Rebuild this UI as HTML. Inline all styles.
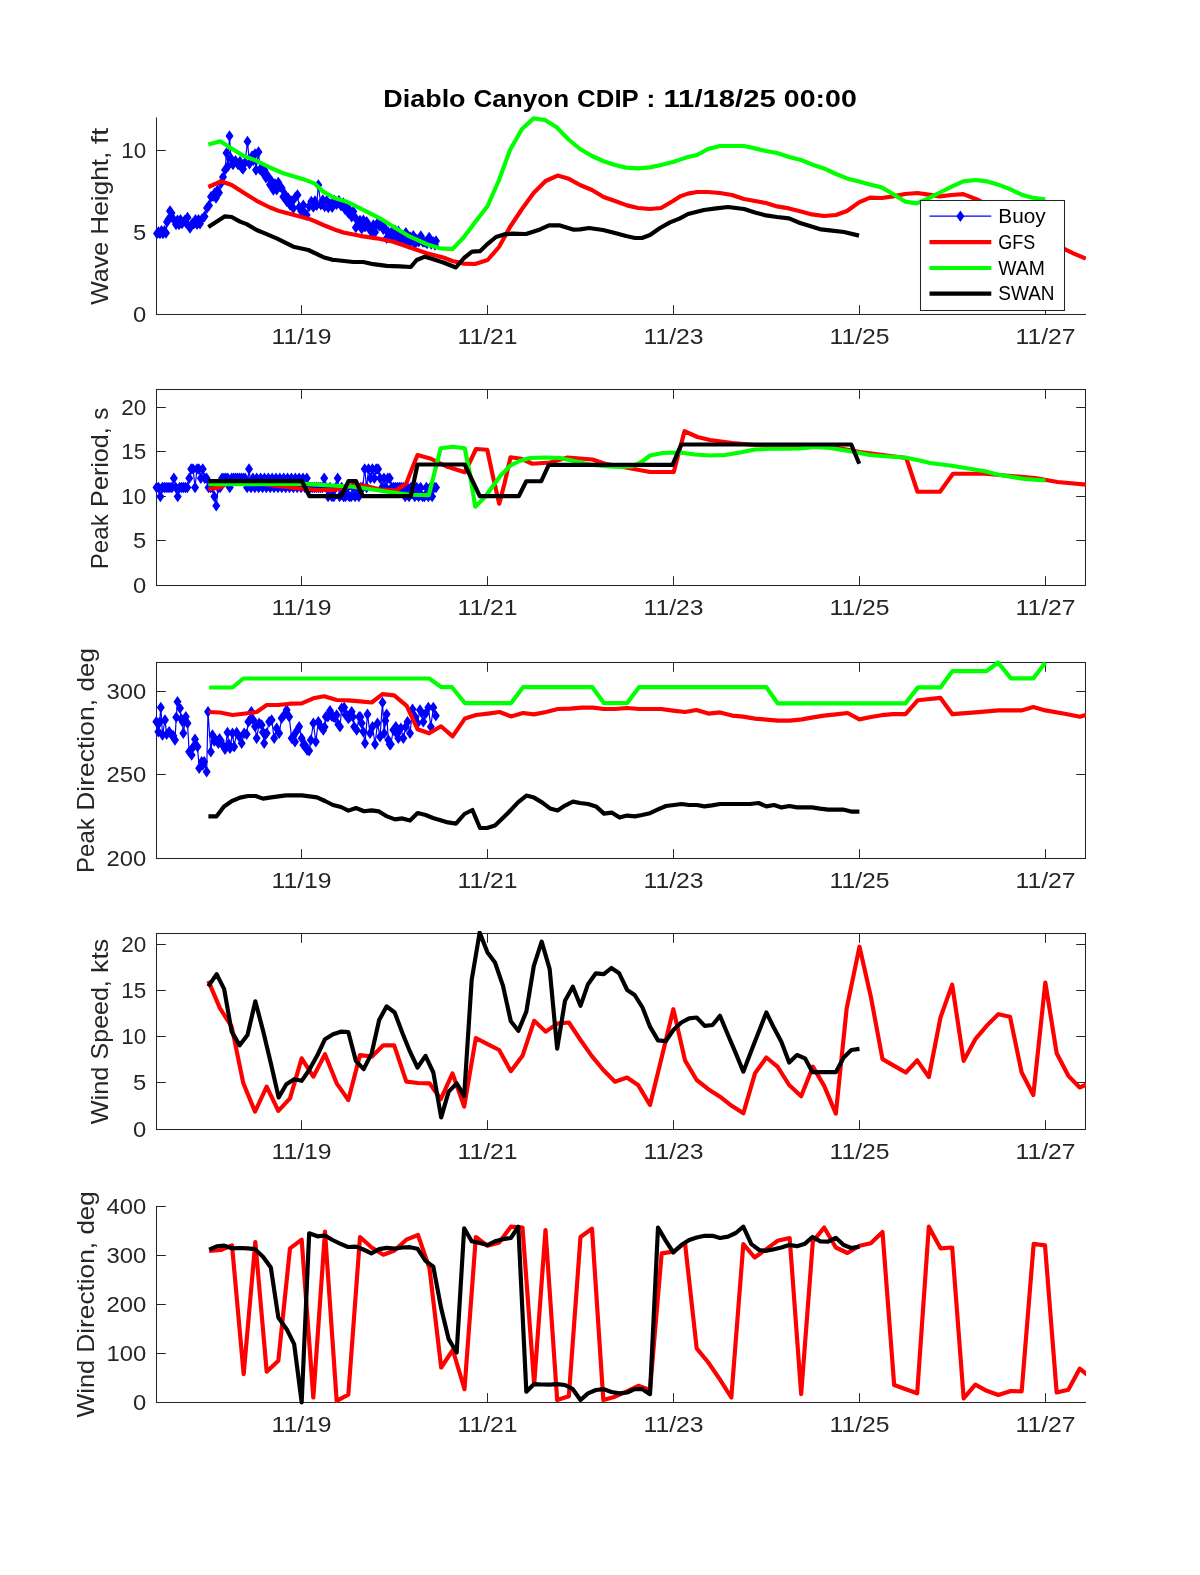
<!DOCTYPE html>
<html lang="en">
<head>
<meta charset="utf-8">
<title>Diablo Canyon CDIP : 11/18/25 00:00</title>
<style>
html,body{margin:0;padding:0;background:#ffffff;}
body{width:1200px;height:1575px;overflow:hidden;font-family:"Liberation Sans",sans-serif;}
svg{display:block;will-change:transform;}
text{font-family:"Liberation Sans",sans-serif;}
</style>
</head>
<body>
<svg width="1200" height="1575" viewBox="0 0 1200 1575" font-family="'Liberation Sans', sans-serif">
<defs>
<clipPath id="c0"><rect x="156" y="115.5" width="930" height="201.5"/></clipPath>
<clipPath id="c1"><rect x="156" y="387" width="930" height="201"/></clipPath>
<clipPath id="c2"><rect x="156" y="660" width="930" height="201"/></clipPath>
<clipPath id="c3"><rect x="156" y="931" width="930" height="201"/></clipPath>
<clipPath id="c4"><rect x="156" y="1204" width="930" height="201"/></clipPath>
</defs>
<text y="107" font-size="24.28" font-weight="bold" fill="#000000"><tspan x="383.24" textLength="82.35" lengthAdjust="spacingAndGlyphs">Diablo</tspan> <tspan x="473.56" textLength="95.6" lengthAdjust="spacingAndGlyphs">Canyon</tspan> <tspan x="577.14" textLength="61.17" lengthAdjust="spacingAndGlyphs">CDIP</tspan> <tspan x="646.29" textLength="9.17" lengthAdjust="spacingAndGlyphs">:</tspan> <tspan x="663.43" textLength="112.41" lengthAdjust="spacingAndGlyphs">11/18/25</tspan> <tspan x="783.82" textLength="72.95" lengthAdjust="spacingAndGlyphs">00:00</tspan></text>
<g id="p1">
<path d="M156.5 117.5V314.5H1086" fill="none" stroke="#262626" stroke-width="1.04"/>
<line x1="301.5" y1="314.5" x2="301.5" y2="305.2" stroke="#262626" stroke-width="1.04"/>
<text x="271.48" y="344.1" font-size="22.25" textLength="60.04" lengthAdjust="spacingAndGlyphs" fill="#262626">11/19</text>
<line x1="487.5" y1="314.5" x2="487.5" y2="305.2" stroke="#262626" stroke-width="1.04"/>
<text x="457.48" y="344.1" font-size="22.25" textLength="60.04" lengthAdjust="spacingAndGlyphs" fill="#262626">11/21</text>
<line x1="673.5" y1="314.5" x2="673.5" y2="305.2" stroke="#262626" stroke-width="1.04"/>
<text x="643.48" y="344.1" font-size="22.25" textLength="60.04" lengthAdjust="spacingAndGlyphs" fill="#262626">11/23</text>
<line x1="859.5" y1="314.5" x2="859.5" y2="305.2" stroke="#262626" stroke-width="1.04"/>
<text x="829.48" y="344.1" font-size="22.25" textLength="60.04" lengthAdjust="spacingAndGlyphs" fill="#262626">11/25</text>
<line x1="1045.5" y1="314.5" x2="1045.5" y2="305.2" stroke="#262626" stroke-width="1.04"/>
<text x="1015.48" y="344.1" font-size="22.25" textLength="60.04" lengthAdjust="spacingAndGlyphs" fill="#262626">11/27</text>
<line x1="156.5" y1="314.5" x2="165.8" y2="314.5" stroke="#262626" stroke-width="1.04"/>
<text x="132.95" y="321.9" font-size="22.25" textLength="13.25" lengthAdjust="spacingAndGlyphs" fill="#262626">0</text>
<line x1="156.5" y1="232.5" x2="165.8" y2="232.5" stroke="#262626" stroke-width="1.04"/>
<text x="132.95" y="239.9" font-size="22.25" textLength="13.25" lengthAdjust="spacingAndGlyphs" fill="#262626">5</text>
<line x1="156.5" y1="150.5" x2="165.8" y2="150.5" stroke="#262626" stroke-width="1.04"/>
<text x="121.19" y="157.9" font-size="22.25" textLength="25.01" lengthAdjust="spacingAndGlyphs" fill="#262626">10</text>
<text y="216.25" font-size="24.28" transform="rotate(-90 108 216.25)" fill="#262626"><tspan x="19.42" textLength="62.9" lengthAdjust="spacingAndGlyphs">Wave</tspan> <tspan x="89.6" textLength="83.04" lengthAdjust="spacingAndGlyphs">Height,</tspan> <tspan x="179.93" textLength="16.65" lengthAdjust="spacingAndGlyphs">ft</tspan></text>
<polyline points="157,233.5 158.5,232.06 160,233.5 161.5,230.77 163,233.5 164.5,230.68 166,233 167,222 168.5,219.21 170,211 171.5,213 173.5,219.24 176,224.61 177.5,220.29 179,224.41 180.5,219.87 182,223.6 184.5,220.64 186,222.69 187.5,217.5 190,228 192,223.76 194,223.62 195.5,219.73 197,224.22 198.5,219.73 200,223.71 202,219.12 204.5,216.57 207,207.89 209,205.48 211,196.83 213,196.16 214.5,193.17 216,197.96 217.5,190.3 219,192.75 221,183.3 223,177.02 225,170.11 226.5,153 228,166.19 229.5,136 231,158.51 233,164.59 235.5,160.87 238,164.43 240,161.39 241.5,167.48 243,169 245,162.6 247.5,141.5 249.5,163.85 252,156.34 253.5,160.3 255,153.97 256,170 258.5,152 260,169.5 261.5,167.53 263,173.01 264.5,170.15 266,177.69 268,176.25 270,184.81 271.67,181.16 273.33,189.89 275,184.09 276.67,189.65 278.33,182.41 280,186.53 281.67,187.96 283.33,196.79 285,194.57 286.67,201.33 288.33,198.21 290,204.97 291.67,201.31 293.33,208.14 295.42,197.26 297.5,195 299.17,207.3 301.25,211.14 303.33,205.16 305,213.57 306.67,215 309.17,206.28 311.25,201.47 313.33,207.11 315,201.04 316.67,205.3 318.33,185 320.83,204.77 322.78,199.99 324.72,206.61 326.67,200.81 328.33,207.51 330,204.02 332.22,207.31 334.44,200.45 336.67,204.21 338.89,200.66 341.11,205.69 343.33,202.97 345,209.31 346.67,206.53 348.33,212.92 350,210.75 351.67,216.85 353.33,211.48 355,217.3 355.83,227.5 358.33,224.6 360,220.58 361.67,228.67 363.33,220.36 365,226.72 366.67,221.67 368.33,227.77 370,227.13 371.67,232.5 373.33,224.96 375,232.13 377.08,223.86 379.17,225.8 381.25,223.81 383.33,229.23 385,228.48 386.67,238.17 388.33,232.2 390,236.7 391.67,232.12 393.33,237.27 395,230.19 396.67,237.12 398.33,231.16 400,239.6 401.67,235.12 403.75,238.91 405.83,232.74 408.33,243.7 410,236.91 411.67,240.32 413.33,235.67 415,243.8 416.67,239.66 418.75,241.79 420.83,235.92 422.92,242.12 425,241.89 427.08,243.46 429.17,237.56 431.25,243.96 433.33,241.91 435,245 436,240.91" fill="none" stroke="#0000ff" stroke-width="1.2" stroke-linejoin="round" stroke-linecap="butt"/>
<path d="M157 227.75l4 5.75l-4 5.75l-4 -5.75zM158.5 226.31l4 5.75l-4 5.75l-4 -5.75zM160 227.75l4 5.75l-4 5.75l-4 -5.75zM161.5 225.02l4 5.75l-4 5.75l-4 -5.75zM163 227.75l4 5.75l-4 5.75l-4 -5.75zM164.5 224.93l4 5.75l-4 5.75l-4 -5.75zM166 227.25l4 5.75l-4 5.75l-4 -5.75zM167 216.25l4 5.75l-4 5.75l-4 -5.75zM168.5 213.46l4 5.75l-4 5.75l-4 -5.75zM170 205.25l4 5.75l-4 5.75l-4 -5.75zM171.5 207.25l4 5.75l-4 5.75l-4 -5.75zM173.5 213.49l4 5.75l-4 5.75l-4 -5.75zM176 218.86l4 5.75l-4 5.75l-4 -5.75zM177.5 214.54l4 5.75l-4 5.75l-4 -5.75zM179 218.66l4 5.75l-4 5.75l-4 -5.75zM180.5 214.12l4 5.75l-4 5.75l-4 -5.75zM182 217.85l4 5.75l-4 5.75l-4 -5.75zM184.5 214.89l4 5.75l-4 5.75l-4 -5.75zM186 216.94l4 5.75l-4 5.75l-4 -5.75zM187.5 211.75l4 5.75l-4 5.75l-4 -5.75zM190 222.25l4 5.75l-4 5.75l-4 -5.75zM192 218.01l4 5.75l-4 5.75l-4 -5.75zM194 217.87l4 5.75l-4 5.75l-4 -5.75zM195.5 213.98l4 5.75l-4 5.75l-4 -5.75zM197 218.47l4 5.75l-4 5.75l-4 -5.75zM198.5 213.98l4 5.75l-4 5.75l-4 -5.75zM200 217.96l4 5.75l-4 5.75l-4 -5.75zM202 213.37l4 5.75l-4 5.75l-4 -5.75zM204.5 210.82l4 5.75l-4 5.75l-4 -5.75zM207 202.14l4 5.75l-4 5.75l-4 -5.75zM209 199.73l4 5.75l-4 5.75l-4 -5.75zM211 191.08l4 5.75l-4 5.75l-4 -5.75zM213 190.41l4 5.75l-4 5.75l-4 -5.75zM214.5 187.42l4 5.75l-4 5.75l-4 -5.75zM216 192.21l4 5.75l-4 5.75l-4 -5.75zM217.5 184.55l4 5.75l-4 5.75l-4 -5.75zM219 187l4 5.75l-4 5.75l-4 -5.75zM221 177.55l4 5.75l-4 5.75l-4 -5.75zM223 171.27l4 5.75l-4 5.75l-4 -5.75zM225 164.36l4 5.75l-4 5.75l-4 -5.75zM226.5 147.25l4 5.75l-4 5.75l-4 -5.75zM228 160.44l4 5.75l-4 5.75l-4 -5.75zM229.5 130.25l4 5.75l-4 5.75l-4 -5.75zM231 152.76l4 5.75l-4 5.75l-4 -5.75zM233 158.84l4 5.75l-4 5.75l-4 -5.75zM235.5 155.12l4 5.75l-4 5.75l-4 -5.75zM238 158.68l4 5.75l-4 5.75l-4 -5.75zM240 155.64l4 5.75l-4 5.75l-4 -5.75zM241.5 161.73l4 5.75l-4 5.75l-4 -5.75zM243 163.25l4 5.75l-4 5.75l-4 -5.75zM245 156.85l4 5.75l-4 5.75l-4 -5.75zM247.5 135.75l4 5.75l-4 5.75l-4 -5.75zM249.5 158.1l4 5.75l-4 5.75l-4 -5.75zM252 150.59l4 5.75l-4 5.75l-4 -5.75zM253.5 154.55l4 5.75l-4 5.75l-4 -5.75zM255 148.22l4 5.75l-4 5.75l-4 -5.75zM256 164.25l4 5.75l-4 5.75l-4 -5.75zM258.5 146.25l4 5.75l-4 5.75l-4 -5.75zM260 163.75l4 5.75l-4 5.75l-4 -5.75zM261.5 161.78l4 5.75l-4 5.75l-4 -5.75zM263 167.26l4 5.75l-4 5.75l-4 -5.75zM264.5 164.4l4 5.75l-4 5.75l-4 -5.75zM266 171.94l4 5.75l-4 5.75l-4 -5.75zM268 170.5l4 5.75l-4 5.75l-4 -5.75zM270 179.06l4 5.75l-4 5.75l-4 -5.75zM271.67 175.41l4 5.75l-4 5.75l-4 -5.75zM273.33 184.14l4 5.75l-4 5.75l-4 -5.75zM275 178.34l4 5.75l-4 5.75l-4 -5.75zM276.67 183.9l4 5.75l-4 5.75l-4 -5.75zM278.33 176.66l4 5.75l-4 5.75l-4 -5.75zM280 180.78l4 5.75l-4 5.75l-4 -5.75zM281.67 182.21l4 5.75l-4 5.75l-4 -5.75zM283.33 191.04l4 5.75l-4 5.75l-4 -5.75zM285 188.82l4 5.75l-4 5.75l-4 -5.75zM286.67 195.58l4 5.75l-4 5.75l-4 -5.75zM288.33 192.46l4 5.75l-4 5.75l-4 -5.75zM290 199.22l4 5.75l-4 5.75l-4 -5.75zM291.67 195.56l4 5.75l-4 5.75l-4 -5.75zM293.33 202.39l4 5.75l-4 5.75l-4 -5.75zM295.42 191.51l4 5.75l-4 5.75l-4 -5.75zM297.5 189.25l4 5.75l-4 5.75l-4 -5.75zM299.17 201.55l4 5.75l-4 5.75l-4 -5.75zM301.25 205.39l4 5.75l-4 5.75l-4 -5.75zM303.33 199.41l4 5.75l-4 5.75l-4 -5.75zM305 207.82l4 5.75l-4 5.75l-4 -5.75zM306.67 209.25l4 5.75l-4 5.75l-4 -5.75zM309.17 200.53l4 5.75l-4 5.75l-4 -5.75zM311.25 195.72l4 5.75l-4 5.75l-4 -5.75zM313.33 201.36l4 5.75l-4 5.75l-4 -5.75zM315 195.29l4 5.75l-4 5.75l-4 -5.75zM316.67 199.55l4 5.75l-4 5.75l-4 -5.75zM318.33 179.25l4 5.75l-4 5.75l-4 -5.75zM320.83 199.02l4 5.75l-4 5.75l-4 -5.75zM322.78 194.24l4 5.75l-4 5.75l-4 -5.75zM324.72 200.86l4 5.75l-4 5.75l-4 -5.75zM326.67 195.06l4 5.75l-4 5.75l-4 -5.75zM328.33 201.76l4 5.75l-4 5.75l-4 -5.75zM330 198.27l4 5.75l-4 5.75l-4 -5.75zM332.22 201.56l4 5.75l-4 5.75l-4 -5.75zM334.44 194.7l4 5.75l-4 5.75l-4 -5.75zM336.67 198.46l4 5.75l-4 5.75l-4 -5.75zM338.89 194.91l4 5.75l-4 5.75l-4 -5.75zM341.11 199.94l4 5.75l-4 5.75l-4 -5.75zM343.33 197.22l4 5.75l-4 5.75l-4 -5.75zM345 203.56l4 5.75l-4 5.75l-4 -5.75zM346.67 200.78l4 5.75l-4 5.75l-4 -5.75zM348.33 207.17l4 5.75l-4 5.75l-4 -5.75zM350 205l4 5.75l-4 5.75l-4 -5.75zM351.67 211.1l4 5.75l-4 5.75l-4 -5.75zM353.33 205.73l4 5.75l-4 5.75l-4 -5.75zM355 211.55l4 5.75l-4 5.75l-4 -5.75zM355.83 221.75l4 5.75l-4 5.75l-4 -5.75zM358.33 218.85l4 5.75l-4 5.75l-4 -5.75zM360 214.83l4 5.75l-4 5.75l-4 -5.75zM361.67 222.92l4 5.75l-4 5.75l-4 -5.75zM363.33 214.61l4 5.75l-4 5.75l-4 -5.75zM365 220.97l4 5.75l-4 5.75l-4 -5.75zM366.67 215.92l4 5.75l-4 5.75l-4 -5.75zM368.33 222.02l4 5.75l-4 5.75l-4 -5.75zM370 221.38l4 5.75l-4 5.75l-4 -5.75zM371.67 226.75l4 5.75l-4 5.75l-4 -5.75zM373.33 219.21l4 5.75l-4 5.75l-4 -5.75zM375 226.38l4 5.75l-4 5.75l-4 -5.75zM377.08 218.11l4 5.75l-4 5.75l-4 -5.75zM379.17 220.05l4 5.75l-4 5.75l-4 -5.75zM381.25 218.06l4 5.75l-4 5.75l-4 -5.75zM383.33 223.48l4 5.75l-4 5.75l-4 -5.75zM385 222.73l4 5.75l-4 5.75l-4 -5.75zM386.67 232.42l4 5.75l-4 5.75l-4 -5.75zM388.33 226.45l4 5.75l-4 5.75l-4 -5.75zM390 230.95l4 5.75l-4 5.75l-4 -5.75zM391.67 226.37l4 5.75l-4 5.75l-4 -5.75zM393.33 231.52l4 5.75l-4 5.75l-4 -5.75zM395 224.44l4 5.75l-4 5.75l-4 -5.75zM396.67 231.37l4 5.75l-4 5.75l-4 -5.75zM398.33 225.41l4 5.75l-4 5.75l-4 -5.75zM400 233.85l4 5.75l-4 5.75l-4 -5.75zM401.67 229.37l4 5.75l-4 5.75l-4 -5.75zM403.75 233.16l4 5.75l-4 5.75l-4 -5.75zM405.83 226.99l4 5.75l-4 5.75l-4 -5.75zM408.33 237.95l4 5.75l-4 5.75l-4 -5.75zM410 231.16l4 5.75l-4 5.75l-4 -5.75zM411.67 234.57l4 5.75l-4 5.75l-4 -5.75zM413.33 229.92l4 5.75l-4 5.75l-4 -5.75zM415 238.05l4 5.75l-4 5.75l-4 -5.75zM416.67 233.91l4 5.75l-4 5.75l-4 -5.75zM418.75 236.04l4 5.75l-4 5.75l-4 -5.75zM420.83 230.17l4 5.75l-4 5.75l-4 -5.75zM422.92 236.37l4 5.75l-4 5.75l-4 -5.75zM425 236.14l4 5.75l-4 5.75l-4 -5.75zM427.08 237.71l4 5.75l-4 5.75l-4 -5.75zM429.17 231.81l4 5.75l-4 5.75l-4 -5.75zM431.25 238.21l4 5.75l-4 5.75l-4 -5.75zM433.33 236.16l4 5.75l-4 5.75l-4 -5.75zM435 239.25l4 5.75l-4 5.75l-4 -5.75zM436 235.16l4 5.75l-4 5.75l-4 -5.75z" fill="#0000ff"/>
<polyline points="208.33,187 220.83,181.33 231.67,185 243.33,192.5 256.67,200.83 270,207.5 280,211.33 293.33,214.67 310,219.17 323.33,225 336.67,230.33 343.33,232.5 360,235.83 376.67,238.33 393.33,241.67 410,247.5 426.67,253.33 443.33,257.5 452.4,261 464,263.6 475,264 487.6,260 499,247 510,227 522,209 533.6,193 545.6,181 557.6,175.6 568,178.4 580,185 592,190 603.6,197 615,201 627,205.4 638,208 650,209 661,208 673,201 680,196.4 688,193.6 697,192 708,192 720,193 732,195 744,199 755,201 766,203 777,206.4 789,208.4 801,211.6 812,214.4 824,216 836,215 847,211 859,202.4 870,197.6 882,198 893,196.4 905,194 917.5,193 928.33,194.67 940,196.33 951.67,195 963.33,194.17 978.33,200 1064.67,249.17 1073.33,253.33 1085.83,258.67" fill="none" stroke="#ff0000" stroke-width="4.17" stroke-linejoin="round" stroke-linecap="butt" clip-path="url(#c0)"/>
<polyline points="208.33,144.5 220.33,141.33 230,147.5 243.33,155.83 256.67,160.83 270,167.5 283.33,173.33 291.67,175.83 303.33,179.17 315,183.67 323.33,191.67 333.33,197.5 346.67,201.67 366.67,211.67 380,218.33 393.33,226.67 410,236.67 426.67,244.17 440,248.33 452.5,249.17 464,237 476,221 487.6,206 499,180 510,150 522,129 533.6,118.4 545,120 557,127.6 568,139 580,149 592,156 603,161 615,165 626,167.6 638,168.4 650,167.4 661,165 673,162 680,159.6 688,157 697,155 708,149 720,146 732,146 744,146 755,148.4 766,151 777,153 789,157 801,160 812,164.4 824,168.4 836,174 847,178.4 859,181.6 870,184.4 882,187.6 893,194 905,201.6 916.67,203.33 928.33,198.33 940,192.5 951.67,186.67 963.33,181.33 975.83,180 986.67,181.33 998.33,184.67 1010,189.17 1021.67,194.67 1031.67,197.5 1045.33,199.67" fill="none" stroke="#00ff00" stroke-width="4.17" stroke-linejoin="round" stroke-linecap="butt" clip-path="url(#c0)"/>
<polyline points="208.33,227 225,216.33 231.67,217 240,221.67 246.67,224.17 256.67,230 266.67,234.17 276.67,238.33 293.33,246.67 308.33,250 323.33,257.17 333.33,260 335,260 353.33,262 363.33,262 373.33,264.17 386.67,265.83 400,266.33 410.83,267 416.67,260 425,256.67 433.33,259.17 443.33,262.5 455.83,267.5 464,258 472,251.6 480,251.2 488,243.6 496,237 504,234.4 512,233.6 526,234 540,229.4 549,225.4 560,225.4 573,229.6 580,229.4 589,228 603,230 615,233 626,236 635,238 642,238 650,235 660,228 670,222.4 680,218.4 688,214 704,210 716,208.4 728,207 744,209 755,212.4 766,215.4 777,217 789,218.4 800,223 810,226 821,229.4 832,230.6 844,232 859,235.6" fill="none" stroke="#000000" stroke-width="4.17" stroke-linejoin="round" stroke-linecap="butt" clip-path="url(#c0)"/>
</g>
<g id="p2">
<rect x="156.5" y="389.5" width="929" height="196" fill="none" stroke="#262626" stroke-width="1.04"/>
<line x1="301.5" y1="585.5" x2="301.5" y2="576.2" stroke="#262626" stroke-width="1.04"/>
<line x1="301.5" y1="389.5" x2="301.5" y2="398.8" stroke="#262626" stroke-width="1.04"/>
<text x="271.48" y="615.1" font-size="22.25" textLength="60.04" lengthAdjust="spacingAndGlyphs" fill="#262626">11/19</text>
<line x1="487.5" y1="585.5" x2="487.5" y2="576.2" stroke="#262626" stroke-width="1.04"/>
<line x1="487.5" y1="389.5" x2="487.5" y2="398.8" stroke="#262626" stroke-width="1.04"/>
<text x="457.48" y="615.1" font-size="22.25" textLength="60.04" lengthAdjust="spacingAndGlyphs" fill="#262626">11/21</text>
<line x1="673.5" y1="585.5" x2="673.5" y2="576.2" stroke="#262626" stroke-width="1.04"/>
<line x1="673.5" y1="389.5" x2="673.5" y2="398.8" stroke="#262626" stroke-width="1.04"/>
<text x="643.48" y="615.1" font-size="22.25" textLength="60.04" lengthAdjust="spacingAndGlyphs" fill="#262626">11/23</text>
<line x1="859.5" y1="585.5" x2="859.5" y2="576.2" stroke="#262626" stroke-width="1.04"/>
<line x1="859.5" y1="389.5" x2="859.5" y2="398.8" stroke="#262626" stroke-width="1.04"/>
<text x="829.48" y="615.1" font-size="22.25" textLength="60.04" lengthAdjust="spacingAndGlyphs" fill="#262626">11/25</text>
<line x1="1045.5" y1="585.5" x2="1045.5" y2="576.2" stroke="#262626" stroke-width="1.04"/>
<line x1="1045.5" y1="389.5" x2="1045.5" y2="398.8" stroke="#262626" stroke-width="1.04"/>
<text x="1015.48" y="615.1" font-size="22.25" textLength="60.04" lengthAdjust="spacingAndGlyphs" fill="#262626">11/27</text>
<line x1="156.5" y1="585.5" x2="165.8" y2="585.5" stroke="#262626" stroke-width="1.04"/>
<line x1="1085.5" y1="585.5" x2="1076.2" y2="585.5" stroke="#262626" stroke-width="1.04"/>
<text x="132.95" y="592.9" font-size="22.25" textLength="13.25" lengthAdjust="spacingAndGlyphs" fill="#262626">0</text>
<line x1="156.5" y1="540.5" x2="165.8" y2="540.5" stroke="#262626" stroke-width="1.04"/>
<line x1="1085.5" y1="540.5" x2="1076.2" y2="540.5" stroke="#262626" stroke-width="1.04"/>
<text x="132.95" y="547.9" font-size="22.25" textLength="13.25" lengthAdjust="spacingAndGlyphs" fill="#262626">5</text>
<line x1="156.5" y1="496.5" x2="165.8" y2="496.5" stroke="#262626" stroke-width="1.04"/>
<line x1="1085.5" y1="496.5" x2="1076.2" y2="496.5" stroke="#262626" stroke-width="1.04"/>
<text x="121.19" y="503.9" font-size="22.25" textLength="25.01" lengthAdjust="spacingAndGlyphs" fill="#262626">10</text>
<line x1="156.5" y1="451.5" x2="165.8" y2="451.5" stroke="#262626" stroke-width="1.04"/>
<line x1="1085.5" y1="451.5" x2="1076.2" y2="451.5" stroke="#262626" stroke-width="1.04"/>
<text x="121.19" y="458.9" font-size="22.25" textLength="25.01" lengthAdjust="spacingAndGlyphs" fill="#262626">15</text>
<line x1="156.5" y1="407.5" x2="165.8" y2="407.5" stroke="#262626" stroke-width="1.04"/>
<line x1="1085.5" y1="407.5" x2="1076.2" y2="407.5" stroke="#262626" stroke-width="1.04"/>
<text x="121.19" y="414.9" font-size="22.25" textLength="25.01" lengthAdjust="spacingAndGlyphs" fill="#262626">20</text>
<text y="488.5" font-size="24.28" transform="rotate(-90 108 488.5)" fill="#262626"><tspan x="27.16" textLength="55.1" lengthAdjust="spacingAndGlyphs">Peak</tspan> <tspan x="89.64" textLength="79.73" lengthAdjust="spacingAndGlyphs">Period,</tspan> <tspan x="176.75" textLength="12.09" lengthAdjust="spacingAndGlyphs">s</tspan></text>
<polyline points="156.5,487.5 158.43,487.5 160.36,496.5 162.28,487.5 164.21,487.5 166.14,487.5 168.07,487.5 169.99,487.5 171.92,487.5 173.85,478.2 175.78,487.5 177.7,496.5 179.63,487.5 181.56,487.5 183.49,487.5 185.41,487.5 187.34,487.5 189.27,478.2 191.2,469 193.12,469 195.05,487.5 196.98,469 198.91,469 200.83,478.2 202.76,469 204.69,478.2 206.62,478.2 208.54,487.5 210.47,487.5 212.4,487.5 214.33,496.5 216.26,505.8 218.18,487.5 220.11,487.5 222.04,478.2 223.97,478.2 225.89,478.2 227.82,478.2 229.75,487.5 231.68,478.2 233.6,478.2 235.53,478.2 237.46,478.2 239.39,478.2 241.31,478.2 243.24,478.2 245.17,478.2 247.1,487.5 249.02,469 250.95,487.5 252.88,478.2 254.81,487.5 256.73,478.2 258.66,487.5 260.59,478.2 262.52,487.5 264.44,478.2 266.37,487.5 268.3,478.2 270.23,487.5 272.16,478.2 274.08,487.5 276.01,478.2 277.94,487.5 279.87,478.2 281.79,487.5 283.72,478.2 285.65,487.5 287.58,478.2 289.5,487.5 291.43,478.2 293.36,487.5 295.29,478.2 297.21,487.5 299.14,478.2 301.07,487.5 303,478.2 304.92,487.5 306.85,478.2 308.78,487.5 310.71,487.5 312.63,487.5 314.56,487.5 316.49,487.5 318.42,487.5 320.34,487.5 322.27,487.5 324.2,478.2 326.13,487.5 328.06,496.5 329.98,487.5 331.91,496.5 333.84,496.5 335.77,487.5 337.69,478.2 339.62,496.5 341.55,487.5 343.48,496.5 345.4,496.5 347.33,487.5 349.26,496.5 351.19,496.5 353.11,487.5 355.04,496.5 356.97,487.5 358.9,496.5 360.82,487.5 362.75,487.5 364.68,469 366.61,487.5 368.53,469 370.46,478.2 372.39,469 374.32,478.2 376.24,469 378.17,469 380.1,478.2 382.03,487.5 383.96,478.2 385.88,487.5 387.81,478.2 389.74,478.2 391.67,487.5 393.59,487.5 395.52,487.5 397.45,487.5 399.38,487.5 401.3,487.5 403.23,487.5 405.16,496.5 407.09,487.5 409.01,496.5 410.94,487.5 412.87,487.5 414.8,496.5 416.72,487.5 418.65,496.5 420.58,487.5 422.51,496.5 424.43,496.5 426.36,487.5 428.29,496.5 430.22,487.5 432.14,496.5 434.07,487.5 436,487.5" fill="none" stroke="#0000ff" stroke-width="1.2" stroke-linejoin="round" stroke-linecap="butt"/>
<path d="M156.5 481.75l4 5.75l-4 5.75l-4 -5.75zM158.43 481.75l4 5.75l-4 5.75l-4 -5.75zM160.36 490.75l4 5.75l-4 5.75l-4 -5.75zM162.28 481.75l4 5.75l-4 5.75l-4 -5.75zM164.21 481.75l4 5.75l-4 5.75l-4 -5.75zM166.14 481.75l4 5.75l-4 5.75l-4 -5.75zM168.07 481.75l4 5.75l-4 5.75l-4 -5.75zM169.99 481.75l4 5.75l-4 5.75l-4 -5.75zM171.92 481.75l4 5.75l-4 5.75l-4 -5.75zM173.85 472.45l4 5.75l-4 5.75l-4 -5.75zM175.78 481.75l4 5.75l-4 5.75l-4 -5.75zM177.7 490.75l4 5.75l-4 5.75l-4 -5.75zM179.63 481.75l4 5.75l-4 5.75l-4 -5.75zM181.56 481.75l4 5.75l-4 5.75l-4 -5.75zM183.49 481.75l4 5.75l-4 5.75l-4 -5.75zM185.41 481.75l4 5.75l-4 5.75l-4 -5.75zM187.34 481.75l4 5.75l-4 5.75l-4 -5.75zM189.27 472.45l4 5.75l-4 5.75l-4 -5.75zM191.2 463.25l4 5.75l-4 5.75l-4 -5.75zM193.12 463.25l4 5.75l-4 5.75l-4 -5.75zM195.05 481.75l4 5.75l-4 5.75l-4 -5.75zM196.98 463.25l4 5.75l-4 5.75l-4 -5.75zM198.91 463.25l4 5.75l-4 5.75l-4 -5.75zM200.83 472.45l4 5.75l-4 5.75l-4 -5.75zM202.76 463.25l4 5.75l-4 5.75l-4 -5.75zM204.69 472.45l4 5.75l-4 5.75l-4 -5.75zM206.62 472.45l4 5.75l-4 5.75l-4 -5.75zM208.54 481.75l4 5.75l-4 5.75l-4 -5.75zM210.47 481.75l4 5.75l-4 5.75l-4 -5.75zM212.4 481.75l4 5.75l-4 5.75l-4 -5.75zM214.33 490.75l4 5.75l-4 5.75l-4 -5.75zM216.26 500.05l4 5.75l-4 5.75l-4 -5.75zM218.18 481.75l4 5.75l-4 5.75l-4 -5.75zM220.11 481.75l4 5.75l-4 5.75l-4 -5.75zM222.04 472.45l4 5.75l-4 5.75l-4 -5.75zM223.97 472.45l4 5.75l-4 5.75l-4 -5.75zM225.89 472.45l4 5.75l-4 5.75l-4 -5.75zM227.82 472.45l4 5.75l-4 5.75l-4 -5.75zM229.75 481.75l4 5.75l-4 5.75l-4 -5.75zM231.68 472.45l4 5.75l-4 5.75l-4 -5.75zM233.6 472.45l4 5.75l-4 5.75l-4 -5.75zM235.53 472.45l4 5.75l-4 5.75l-4 -5.75zM237.46 472.45l4 5.75l-4 5.75l-4 -5.75zM239.39 472.45l4 5.75l-4 5.75l-4 -5.75zM241.31 472.45l4 5.75l-4 5.75l-4 -5.75zM243.24 472.45l4 5.75l-4 5.75l-4 -5.75zM245.17 472.45l4 5.75l-4 5.75l-4 -5.75zM247.1 481.75l4 5.75l-4 5.75l-4 -5.75zM249.02 463.25l4 5.75l-4 5.75l-4 -5.75zM250.95 481.75l4 5.75l-4 5.75l-4 -5.75zM252.88 472.45l4 5.75l-4 5.75l-4 -5.75zM254.81 481.75l4 5.75l-4 5.75l-4 -5.75zM256.73 472.45l4 5.75l-4 5.75l-4 -5.75zM258.66 481.75l4 5.75l-4 5.75l-4 -5.75zM260.59 472.45l4 5.75l-4 5.75l-4 -5.75zM262.52 481.75l4 5.75l-4 5.75l-4 -5.75zM264.44 472.45l4 5.75l-4 5.75l-4 -5.75zM266.37 481.75l4 5.75l-4 5.75l-4 -5.75zM268.3 472.45l4 5.75l-4 5.75l-4 -5.75zM270.23 481.75l4 5.75l-4 5.75l-4 -5.75zM272.16 472.45l4 5.75l-4 5.75l-4 -5.75zM274.08 481.75l4 5.75l-4 5.75l-4 -5.75zM276.01 472.45l4 5.75l-4 5.75l-4 -5.75zM277.94 481.75l4 5.75l-4 5.75l-4 -5.75zM279.87 472.45l4 5.75l-4 5.75l-4 -5.75zM281.79 481.75l4 5.75l-4 5.75l-4 -5.75zM283.72 472.45l4 5.75l-4 5.75l-4 -5.75zM285.65 481.75l4 5.75l-4 5.75l-4 -5.75zM287.58 472.45l4 5.75l-4 5.75l-4 -5.75zM289.5 481.75l4 5.75l-4 5.75l-4 -5.75zM291.43 472.45l4 5.75l-4 5.75l-4 -5.75zM293.36 481.75l4 5.75l-4 5.75l-4 -5.75zM295.29 472.45l4 5.75l-4 5.75l-4 -5.75zM297.21 481.75l4 5.75l-4 5.75l-4 -5.75zM299.14 472.45l4 5.75l-4 5.75l-4 -5.75zM301.07 481.75l4 5.75l-4 5.75l-4 -5.75zM303 472.45l4 5.75l-4 5.75l-4 -5.75zM304.92 481.75l4 5.75l-4 5.75l-4 -5.75zM306.85 472.45l4 5.75l-4 5.75l-4 -5.75zM308.78 481.75l4 5.75l-4 5.75l-4 -5.75zM310.71 481.75l4 5.75l-4 5.75l-4 -5.75zM312.63 481.75l4 5.75l-4 5.75l-4 -5.75zM314.56 481.75l4 5.75l-4 5.75l-4 -5.75zM316.49 481.75l4 5.75l-4 5.75l-4 -5.75zM318.42 481.75l4 5.75l-4 5.75l-4 -5.75zM320.34 481.75l4 5.75l-4 5.75l-4 -5.75zM322.27 481.75l4 5.75l-4 5.75l-4 -5.75zM324.2 472.45l4 5.75l-4 5.75l-4 -5.75zM326.13 481.75l4 5.75l-4 5.75l-4 -5.75zM328.06 490.75l4 5.75l-4 5.75l-4 -5.75zM329.98 481.75l4 5.75l-4 5.75l-4 -5.75zM331.91 490.75l4 5.75l-4 5.75l-4 -5.75zM333.84 490.75l4 5.75l-4 5.75l-4 -5.75zM335.77 481.75l4 5.75l-4 5.75l-4 -5.75zM337.69 472.45l4 5.75l-4 5.75l-4 -5.75zM339.62 490.75l4 5.75l-4 5.75l-4 -5.75zM341.55 481.75l4 5.75l-4 5.75l-4 -5.75zM343.48 490.75l4 5.75l-4 5.75l-4 -5.75zM345.4 490.75l4 5.75l-4 5.75l-4 -5.75zM347.33 481.75l4 5.75l-4 5.75l-4 -5.75zM349.26 490.75l4 5.75l-4 5.75l-4 -5.75zM351.19 490.75l4 5.75l-4 5.75l-4 -5.75zM353.11 481.75l4 5.75l-4 5.75l-4 -5.75zM355.04 490.75l4 5.75l-4 5.75l-4 -5.75zM356.97 481.75l4 5.75l-4 5.75l-4 -5.75zM358.9 490.75l4 5.75l-4 5.75l-4 -5.75zM360.82 481.75l4 5.75l-4 5.75l-4 -5.75zM362.75 481.75l4 5.75l-4 5.75l-4 -5.75zM364.68 463.25l4 5.75l-4 5.75l-4 -5.75zM366.61 481.75l4 5.75l-4 5.75l-4 -5.75zM368.53 463.25l4 5.75l-4 5.75l-4 -5.75zM370.46 472.45l4 5.75l-4 5.75l-4 -5.75zM372.39 463.25l4 5.75l-4 5.75l-4 -5.75zM374.32 472.45l4 5.75l-4 5.75l-4 -5.75zM376.24 463.25l4 5.75l-4 5.75l-4 -5.75zM378.17 463.25l4 5.75l-4 5.75l-4 -5.75zM380.1 472.45l4 5.75l-4 5.75l-4 -5.75zM382.03 481.75l4 5.75l-4 5.75l-4 -5.75zM383.96 472.45l4 5.75l-4 5.75l-4 -5.75zM385.88 481.75l4 5.75l-4 5.75l-4 -5.75zM387.81 472.45l4 5.75l-4 5.75l-4 -5.75zM389.74 472.45l4 5.75l-4 5.75l-4 -5.75zM391.67 481.75l4 5.75l-4 5.75l-4 -5.75zM393.59 481.75l4 5.75l-4 5.75l-4 -5.75zM395.52 481.75l4 5.75l-4 5.75l-4 -5.75zM397.45 481.75l4 5.75l-4 5.75l-4 -5.75zM399.38 481.75l4 5.75l-4 5.75l-4 -5.75zM401.3 481.75l4 5.75l-4 5.75l-4 -5.75zM403.23 481.75l4 5.75l-4 5.75l-4 -5.75zM405.16 490.75l4 5.75l-4 5.75l-4 -5.75zM407.09 481.75l4 5.75l-4 5.75l-4 -5.75zM409.01 490.75l4 5.75l-4 5.75l-4 -5.75zM410.94 481.75l4 5.75l-4 5.75l-4 -5.75zM412.87 481.75l4 5.75l-4 5.75l-4 -5.75zM414.8 490.75l4 5.75l-4 5.75l-4 -5.75zM416.72 481.75l4 5.75l-4 5.75l-4 -5.75zM418.65 490.75l4 5.75l-4 5.75l-4 -5.75zM420.58 481.75l4 5.75l-4 5.75l-4 -5.75zM422.51 490.75l4 5.75l-4 5.75l-4 -5.75zM424.43 490.75l4 5.75l-4 5.75l-4 -5.75zM426.36 481.75l4 5.75l-4 5.75l-4 -5.75zM428.29 490.75l4 5.75l-4 5.75l-4 -5.75zM430.22 481.75l4 5.75l-4 5.75l-4 -5.75zM432.14 490.75l4 5.75l-4 5.75l-4 -5.75zM434.07 481.75l4 5.75l-4 5.75l-4 -5.75zM436 481.75l4 5.75l-4 5.75l-4 -5.75z" fill="#0000ff"/>
<polyline points="208.3,489.2 220,487.5 230,482.5 236.7,480.8 250,481.7 275,485.8 300,488.5 316.7,490 333.3,490 345,487.5 355,484.5 365,485.75 380,489.5 396.5,490.25 406.25,483.5 411.5,470 417.5,455 431,458.75 446,466.25 464.75,472.25 470,461.75 476,449 487.25,449.75 492.5,474.5 499.25,503.75 504.5,483.5 510.5,457.25 521,458.75 532.5,463.75 550,462.5 567.5,457.5 592.5,459.5 605,463.75 632.5,468.75 650,472 673.75,472 684.5,431.25 697.5,437 710,440 732.5,443 755,445 800,445 830,446.5 860,452 906.25,458 917.5,491.75 940,491.75 953,473.75 985,473.75 1005,475.5 1035,478 1057.5,482 1087,484.7" fill="none" stroke="#ff0000" stroke-width="4.17" stroke-linejoin="round" stroke-linecap="butt" clip-path="url(#c1)"/>
<polyline points="208.3,484.2 250,484.2 300,483.7 316.7,484.7 350,486.5 368,488.75 387.5,491.75 410,494.75 428.75,495.2 434,474.5 440.75,448.25 452.75,446.75 464.75,448.25 470,474.5 475.25,506.75 485,497 492.5,486.5 501.5,474.5 510.5,465.5 519.5,461 530,458 545,457.5 560,458 575,461.25 590,464.5 605,466.25 620,467 632.5,466.25 642.5,461.25 650,455.5 662.5,453 680,452.5 695,454.5 710,455.5 725,455 740,452.5 755,449.5 770,448.75 785,448.75 800,448.5 815,447 830,448 850,451.25 870,455 885,456.25 905,457.5 917.5,460 930,463 950,465.5 970,468.75 985,471.25 997.5,474.5 1015,477.5 1025,479 1045.4,480.5" fill="none" stroke="#00ff00" stroke-width="4.17" stroke-linejoin="round" stroke-linecap="butt" clip-path="url(#c1)"/>
<polyline points="208.3,481.2 302,481.2 309.5,496.2 341,496.2 348.5,481.2 356,481.2 362.75,496.2 410.75,496.2 417.5,464.5 464.75,464.5 479.75,496.2 518.75,496.2 526.25,481.25 541.25,481.25 548.75,464.8 672.5,464.8 681.25,444.5 851.25,444.5 859.25,463.75" fill="none" stroke="#000000" stroke-width="4.17" stroke-linejoin="round" stroke-linecap="butt" clip-path="url(#c1)"/>
</g>
<g id="p3">
<rect x="156.5" y="662.5" width="929" height="196" fill="none" stroke="#262626" stroke-width="1.04"/>
<line x1="301.5" y1="858.5" x2="301.5" y2="849.2" stroke="#262626" stroke-width="1.04"/>
<line x1="301.5" y1="662.5" x2="301.5" y2="671.8" stroke="#262626" stroke-width="1.04"/>
<text x="271.48" y="888.1" font-size="22.25" textLength="60.04" lengthAdjust="spacingAndGlyphs" fill="#262626">11/19</text>
<line x1="487.5" y1="858.5" x2="487.5" y2="849.2" stroke="#262626" stroke-width="1.04"/>
<line x1="487.5" y1="662.5" x2="487.5" y2="671.8" stroke="#262626" stroke-width="1.04"/>
<text x="457.48" y="888.1" font-size="22.25" textLength="60.04" lengthAdjust="spacingAndGlyphs" fill="#262626">11/21</text>
<line x1="673.5" y1="858.5" x2="673.5" y2="849.2" stroke="#262626" stroke-width="1.04"/>
<line x1="673.5" y1="662.5" x2="673.5" y2="671.8" stroke="#262626" stroke-width="1.04"/>
<text x="643.48" y="888.1" font-size="22.25" textLength="60.04" lengthAdjust="spacingAndGlyphs" fill="#262626">11/23</text>
<line x1="859.5" y1="858.5" x2="859.5" y2="849.2" stroke="#262626" stroke-width="1.04"/>
<line x1="859.5" y1="662.5" x2="859.5" y2="671.8" stroke="#262626" stroke-width="1.04"/>
<text x="829.48" y="888.1" font-size="22.25" textLength="60.04" lengthAdjust="spacingAndGlyphs" fill="#262626">11/25</text>
<line x1="1045.5" y1="858.5" x2="1045.5" y2="849.2" stroke="#262626" stroke-width="1.04"/>
<line x1="1045.5" y1="662.5" x2="1045.5" y2="671.8" stroke="#262626" stroke-width="1.04"/>
<text x="1015.48" y="888.1" font-size="22.25" textLength="60.04" lengthAdjust="spacingAndGlyphs" fill="#262626">11/27</text>
<line x1="156.5" y1="858.5" x2="165.8" y2="858.5" stroke="#262626" stroke-width="1.04"/>
<line x1="1085.5" y1="858.5" x2="1076.2" y2="858.5" stroke="#262626" stroke-width="1.04"/>
<text x="106.44" y="865.9" font-size="22.25" textLength="39.76" lengthAdjust="spacingAndGlyphs" fill="#262626">200</text>
<line x1="156.5" y1="774.5" x2="165.8" y2="774.5" stroke="#262626" stroke-width="1.04"/>
<line x1="1085.5" y1="774.5" x2="1076.2" y2="774.5" stroke="#262626" stroke-width="1.04"/>
<text x="106.44" y="781.9" font-size="22.25" textLength="39.76" lengthAdjust="spacingAndGlyphs" fill="#262626">250</text>
<line x1="156.5" y1="691.5" x2="165.8" y2="691.5" stroke="#262626" stroke-width="1.04"/>
<line x1="1085.5" y1="691.5" x2="1076.2" y2="691.5" stroke="#262626" stroke-width="1.04"/>
<text x="106.44" y="698.9" font-size="22.25" textLength="39.76" lengthAdjust="spacingAndGlyphs" fill="#262626">300</text>
<text y="760.5" font-size="24.28" transform="rotate(-90 94.3 760.5)" fill="#262626"><tspan x="-18.2" textLength="54.91" lengthAdjust="spacingAndGlyphs">Peak</tspan> <tspan x="44.06" textLength="111.81" lengthAdjust="spacingAndGlyphs">Direction,</tspan> <tspan x="163.22" textLength="43.58" lengthAdjust="spacingAndGlyphs">deg</tspan></text>
<polyline points="156.33,721.67 158.33,731.67 159.58,722.49 160.83,707.5 162.5,735 165,720 166.67,734.17 169.17,731.67 171.67,735 173.33,735.74 175,740 176.25,717.22 177.5,701.67 180,708.33 181.25,718.99 182.5,721.67 183.33,733.33 185.83,716.67 187.5,723.33 189.17,751.67 191.67,755 193.33,746.67 195,739.17 197.5,746.67 199.17,768.33 201.67,761.67 202.92,764.79 204.17,761.67 206.67,771.67 208,711.67 210.83,751.67 212.5,735 214.17,740.88 215.83,740 218.33,743.33 219.58,738.66 220.83,740.83 222.5,745 225,749.17 227.5,732.5 228.75,744.09 230,748.33 232.5,733.33 234.17,746.67 236.67,732.5 239.17,736.67 241.67,743.33 244.17,733.33 246.67,734.17 248.33,721.67 249.83,720.19 251.33,711.67 253.33,720 255,726.5 256.67,738.33 259.17,723.33 261.67,725 262.92,732.24 264.17,743.33 265.42,734.42 266.67,733.33 269.17,721.67 271.67,720 274.17,738.33 276.67,728.33 279.17,733.33 281.67,718.33 284.17,715 286.67,710 289.17,716.67 291.67,738.33 293.33,736.17 295,741.67 297.08,730.51 299.17,726.67 301.67,738.33 303.33,744.88 305,745 307.08,749.91 309.17,750.83 310.83,740 313.33,723.33 315.83,741.67 318.33,721.67 320.83,726.67 323.33,730 324.58,726.93 325.83,716.67 327.92,716.73 330,710.83 331.67,716.03 333.33,716.67 335,717.59 336.67,715 338.33,724.48 340,726.67 341.67,708.33 344.17,707.5 345.42,714.77 346.67,715 348.33,718.42 350,716.67 351.67,711.67 352.92,716.86 354.17,726.67 356.67,730 359.17,716.67 360.42,716.93 361.67,723.33 363.33,731.63 365,743.33 367.5,714.17 370,733.33 372.5,726.67 375,744.17 377.5,723.33 380,736.67 382.5,702.5 384.17,733.33 385.42,720.71 386.67,714.17 388.33,740 389.58,744.16 390.83,744.17 393.33,730 395.83,726.67 397.08,734.2 398.33,738.33 400.83,728.33 403.33,738.33 405.83,726.67 407.5,721.67 410,733.33 412.5,709.17 415,716.67 417.5,723.33 420,710 421.67,712.8 423.33,721.67 425.83,713.33 428.33,707.5 430.83,726.67 433.33,707.5 435.83,715.83" fill="none" stroke="#0000ff" stroke-width="1.2" stroke-linejoin="round" stroke-linecap="butt"/>
<path d="M156.33 715.92l4 5.75l-4 5.75l-4 -5.75zM158.33 725.92l4 5.75l-4 5.75l-4 -5.75zM159.58 716.74l4 5.75l-4 5.75l-4 -5.75zM160.83 701.75l4 5.75l-4 5.75l-4 -5.75zM162.5 729.25l4 5.75l-4 5.75l-4 -5.75zM165 714.25l4 5.75l-4 5.75l-4 -5.75zM166.67 728.42l4 5.75l-4 5.75l-4 -5.75zM169.17 725.92l4 5.75l-4 5.75l-4 -5.75zM171.67 729.25l4 5.75l-4 5.75l-4 -5.75zM173.33 729.99l4 5.75l-4 5.75l-4 -5.75zM175 734.25l4 5.75l-4 5.75l-4 -5.75zM176.25 711.47l4 5.75l-4 5.75l-4 -5.75zM177.5 695.92l4 5.75l-4 5.75l-4 -5.75zM180 702.58l4 5.75l-4 5.75l-4 -5.75zM181.25 713.24l4 5.75l-4 5.75l-4 -5.75zM182.5 715.92l4 5.75l-4 5.75l-4 -5.75zM183.33 727.58l4 5.75l-4 5.75l-4 -5.75zM185.83 710.92l4 5.75l-4 5.75l-4 -5.75zM187.5 717.58l4 5.75l-4 5.75l-4 -5.75zM189.17 745.92l4 5.75l-4 5.75l-4 -5.75zM191.67 749.25l4 5.75l-4 5.75l-4 -5.75zM193.33 740.92l4 5.75l-4 5.75l-4 -5.75zM195 733.42l4 5.75l-4 5.75l-4 -5.75zM197.5 740.92l4 5.75l-4 5.75l-4 -5.75zM199.17 762.58l4 5.75l-4 5.75l-4 -5.75zM201.67 755.92l4 5.75l-4 5.75l-4 -5.75zM202.92 759.04l4 5.75l-4 5.75l-4 -5.75zM204.17 755.92l4 5.75l-4 5.75l-4 -5.75zM206.67 765.92l4 5.75l-4 5.75l-4 -5.75zM208 705.92l4 5.75l-4 5.75l-4 -5.75zM210.83 745.92l4 5.75l-4 5.75l-4 -5.75zM212.5 729.25l4 5.75l-4 5.75l-4 -5.75zM214.17 735.13l4 5.75l-4 5.75l-4 -5.75zM215.83 734.25l4 5.75l-4 5.75l-4 -5.75zM218.33 737.58l4 5.75l-4 5.75l-4 -5.75zM219.58 732.91l4 5.75l-4 5.75l-4 -5.75zM220.83 735.08l4 5.75l-4 5.75l-4 -5.75zM222.5 739.25l4 5.75l-4 5.75l-4 -5.75zM225 743.42l4 5.75l-4 5.75l-4 -5.75zM227.5 726.75l4 5.75l-4 5.75l-4 -5.75zM228.75 738.34l4 5.75l-4 5.75l-4 -5.75zM230 742.58l4 5.75l-4 5.75l-4 -5.75zM232.5 727.58l4 5.75l-4 5.75l-4 -5.75zM234.17 740.92l4 5.75l-4 5.75l-4 -5.75zM236.67 726.75l4 5.75l-4 5.75l-4 -5.75zM239.17 730.92l4 5.75l-4 5.75l-4 -5.75zM241.67 737.58l4 5.75l-4 5.75l-4 -5.75zM244.17 727.58l4 5.75l-4 5.75l-4 -5.75zM246.67 728.42l4 5.75l-4 5.75l-4 -5.75zM248.33 715.92l4 5.75l-4 5.75l-4 -5.75zM249.83 714.44l4 5.75l-4 5.75l-4 -5.75zM251.33 705.92l4 5.75l-4 5.75l-4 -5.75zM253.33 714.25l4 5.75l-4 5.75l-4 -5.75zM255 720.75l4 5.75l-4 5.75l-4 -5.75zM256.67 732.58l4 5.75l-4 5.75l-4 -5.75zM259.17 717.58l4 5.75l-4 5.75l-4 -5.75zM261.67 719.25l4 5.75l-4 5.75l-4 -5.75zM262.92 726.49l4 5.75l-4 5.75l-4 -5.75zM264.17 737.58l4 5.75l-4 5.75l-4 -5.75zM265.42 728.67l4 5.75l-4 5.75l-4 -5.75zM266.67 727.58l4 5.75l-4 5.75l-4 -5.75zM269.17 715.92l4 5.75l-4 5.75l-4 -5.75zM271.67 714.25l4 5.75l-4 5.75l-4 -5.75zM274.17 732.58l4 5.75l-4 5.75l-4 -5.75zM276.67 722.58l4 5.75l-4 5.75l-4 -5.75zM279.17 727.58l4 5.75l-4 5.75l-4 -5.75zM281.67 712.58l4 5.75l-4 5.75l-4 -5.75zM284.17 709.25l4 5.75l-4 5.75l-4 -5.75zM286.67 704.25l4 5.75l-4 5.75l-4 -5.75zM289.17 710.92l4 5.75l-4 5.75l-4 -5.75zM291.67 732.58l4 5.75l-4 5.75l-4 -5.75zM293.33 730.42l4 5.75l-4 5.75l-4 -5.75zM295 735.92l4 5.75l-4 5.75l-4 -5.75zM297.08 724.76l4 5.75l-4 5.75l-4 -5.75zM299.17 720.92l4 5.75l-4 5.75l-4 -5.75zM301.67 732.58l4 5.75l-4 5.75l-4 -5.75zM303.33 739.13l4 5.75l-4 5.75l-4 -5.75zM305 739.25l4 5.75l-4 5.75l-4 -5.75zM307.08 744.16l4 5.75l-4 5.75l-4 -5.75zM309.17 745.08l4 5.75l-4 5.75l-4 -5.75zM310.83 734.25l4 5.75l-4 5.75l-4 -5.75zM313.33 717.58l4 5.75l-4 5.75l-4 -5.75zM315.83 735.92l4 5.75l-4 5.75l-4 -5.75zM318.33 715.92l4 5.75l-4 5.75l-4 -5.75zM320.83 720.92l4 5.75l-4 5.75l-4 -5.75zM323.33 724.25l4 5.75l-4 5.75l-4 -5.75zM324.58 721.18l4 5.75l-4 5.75l-4 -5.75zM325.83 710.92l4 5.75l-4 5.75l-4 -5.75zM327.92 710.98l4 5.75l-4 5.75l-4 -5.75zM330 705.08l4 5.75l-4 5.75l-4 -5.75zM331.67 710.28l4 5.75l-4 5.75l-4 -5.75zM333.33 710.92l4 5.75l-4 5.75l-4 -5.75zM335 711.84l4 5.75l-4 5.75l-4 -5.75zM336.67 709.25l4 5.75l-4 5.75l-4 -5.75zM338.33 718.73l4 5.75l-4 5.75l-4 -5.75zM340 720.92l4 5.75l-4 5.75l-4 -5.75zM341.67 702.58l4 5.75l-4 5.75l-4 -5.75zM344.17 701.75l4 5.75l-4 5.75l-4 -5.75zM345.42 709.02l4 5.75l-4 5.75l-4 -5.75zM346.67 709.25l4 5.75l-4 5.75l-4 -5.75zM348.33 712.67l4 5.75l-4 5.75l-4 -5.75zM350 710.92l4 5.75l-4 5.75l-4 -5.75zM351.67 705.92l4 5.75l-4 5.75l-4 -5.75zM352.92 711.11l4 5.75l-4 5.75l-4 -5.75zM354.17 720.92l4 5.75l-4 5.75l-4 -5.75zM356.67 724.25l4 5.75l-4 5.75l-4 -5.75zM359.17 710.92l4 5.75l-4 5.75l-4 -5.75zM360.42 711.18l4 5.75l-4 5.75l-4 -5.75zM361.67 717.58l4 5.75l-4 5.75l-4 -5.75zM363.33 725.88l4 5.75l-4 5.75l-4 -5.75zM365 737.58l4 5.75l-4 5.75l-4 -5.75zM367.5 708.42l4 5.75l-4 5.75l-4 -5.75zM370 727.58l4 5.75l-4 5.75l-4 -5.75zM372.5 720.92l4 5.75l-4 5.75l-4 -5.75zM375 738.42l4 5.75l-4 5.75l-4 -5.75zM377.5 717.58l4 5.75l-4 5.75l-4 -5.75zM380 730.92l4 5.75l-4 5.75l-4 -5.75zM382.5 696.75l4 5.75l-4 5.75l-4 -5.75zM384.17 727.58l4 5.75l-4 5.75l-4 -5.75zM385.42 714.96l4 5.75l-4 5.75l-4 -5.75zM386.67 708.42l4 5.75l-4 5.75l-4 -5.75zM388.33 734.25l4 5.75l-4 5.75l-4 -5.75zM389.58 738.41l4 5.75l-4 5.75l-4 -5.75zM390.83 738.42l4 5.75l-4 5.75l-4 -5.75zM393.33 724.25l4 5.75l-4 5.75l-4 -5.75zM395.83 720.92l4 5.75l-4 5.75l-4 -5.75zM397.08 728.45l4 5.75l-4 5.75l-4 -5.75zM398.33 732.58l4 5.75l-4 5.75l-4 -5.75zM400.83 722.58l4 5.75l-4 5.75l-4 -5.75zM403.33 732.58l4 5.75l-4 5.75l-4 -5.75zM405.83 720.92l4 5.75l-4 5.75l-4 -5.75zM407.5 715.92l4 5.75l-4 5.75l-4 -5.75zM410 727.58l4 5.75l-4 5.75l-4 -5.75zM412.5 703.42l4 5.75l-4 5.75l-4 -5.75zM415 710.92l4 5.75l-4 5.75l-4 -5.75zM417.5 717.58l4 5.75l-4 5.75l-4 -5.75zM420 704.25l4 5.75l-4 5.75l-4 -5.75zM421.67 707.05l4 5.75l-4 5.75l-4 -5.75zM423.33 715.92l4 5.75l-4 5.75l-4 -5.75zM425.83 707.58l4 5.75l-4 5.75l-4 -5.75zM428.33 701.75l4 5.75l-4 5.75l-4 -5.75zM430.83 720.92l4 5.75l-4 5.75l-4 -5.75zM433.33 701.75l4 5.75l-4 5.75l-4 -5.75zM435.83 710.08l4 5.75l-4 5.75l-4 -5.75z" fill="#0000ff"/>
<polyline points="209.2,712 220,712.5 232.5,715 243.3,713.7 253.3,712.5 256.7,712 266.7,705 278.3,705 290,703.7 301.7,703.3 313.3,698.3 324.2,696.3 336.7,700 348.3,700.3 360,701.3 371.7,702.5 382.5,694.2 394.2,695.3 406.7,705.8 417.5,729.2 429.2,733.3 441,726.3 452.6,736.4 465,718.4 476,715 488,713.6 499.6,712 511,716.4 523,713 534,714.4 546,712 558,709 570,708.6 582,707.6 593,707.6 604,709 615,709 627,708 639,709 650,709 661,709 673,710.6 685,712 696.4,710 708.4,713.6 720,712.4 732,715.6 743,716.6 755,718.6 766.4,719.6 778,720.6 790,720.6 802,719.4 813,717.4 824,715.6 836,714.4 847.6,713 859.4,719.4 871,717 881.5,715.2 893,714.2 905.5,714.2 917.9,700.2 940.5,697.9 952.4,714.2 975.4,712.3 998.4,710.4 1021.4,710.4 1033.3,707.1 1045.4,710.4 1067.4,714.2 1079.9,716.7 1087,714.5" fill="none" stroke="#ff0000" stroke-width="4.17" stroke-linejoin="round" stroke-linecap="butt" clip-path="url(#c2)"/>
<polyline points="209.2,687.5 232.5,687.5 243.3,678.5 429.2,678.5 441.6,687.2 452,687.2 465,703.2 511,703.2 523,687.2 592.4,687.2 604,703.2 627,703.2 639,687.2 766.4,687.2 777.6,703.3 905.5,703.3 917.9,687.4 940.5,687.4 952.4,671.1 986.5,671.1 998,662.5 1010.9,678.4 1033.3,678.4 1045.4,662.5" fill="none" stroke="#00ff00" stroke-width="4.17" stroke-linejoin="round" stroke-linecap="butt" clip-path="url(#c2)"/>
<polyline points="208.4,816.4 216.4,816.4 224,806.4 232,801 240,797.6 248,796 255.6,796 263,798.6 271,797.4 286,795.4 302,795.4 317,797.4 325,801 333,805 341,807 348.4,810.6 356,808 364,811.2 371.6,810.4 379,811.4 387,816.4 395,819.4 402.4,818.4 410,820.4 417.6,813 425.6,815 433,818 448,822.4 456,823.6 464.4,814 472.4,810 480,828 487,828 495,825.6 508,813 518,802.4 526.4,795.6 534,797.6 542,802.4 550,808.4 557.6,810.4 565,805.6 573,801.6 580,803 588,804 596,806.4 604,813.6 611.6,812.6 619.6,817.6 627,815.6 635,816.4 642,815 650,813.2 658,809.4 666,806 674,805 681.6,804 689,805 697,805 704.4,806.4 712,805.4 720,804 750,804 758.6,803 766.4,806.4 774,805 781.6,807.4 789.4,806 797,807.4 812,807.4 820,808.6 828,809.6 843,809.6 851,811.6 859.4,811.6" fill="none" stroke="#000000" stroke-width="4.17" stroke-linejoin="round" stroke-linecap="butt" clip-path="url(#c2)"/>
</g>
<g id="p4">
<rect x="156.5" y="933.5" width="929" height="196" fill="none" stroke="#262626" stroke-width="1.04"/>
<line x1="301.5" y1="1129.5" x2="301.5" y2="1120.2" stroke="#262626" stroke-width="1.04"/>
<line x1="301.5" y1="933.5" x2="301.5" y2="942.8" stroke="#262626" stroke-width="1.04"/>
<text x="271.48" y="1159.1" font-size="22.25" textLength="60.04" lengthAdjust="spacingAndGlyphs" fill="#262626">11/19</text>
<line x1="487.5" y1="1129.5" x2="487.5" y2="1120.2" stroke="#262626" stroke-width="1.04"/>
<line x1="487.5" y1="933.5" x2="487.5" y2="942.8" stroke="#262626" stroke-width="1.04"/>
<text x="457.48" y="1159.1" font-size="22.25" textLength="60.04" lengthAdjust="spacingAndGlyphs" fill="#262626">11/21</text>
<line x1="673.5" y1="1129.5" x2="673.5" y2="1120.2" stroke="#262626" stroke-width="1.04"/>
<line x1="673.5" y1="933.5" x2="673.5" y2="942.8" stroke="#262626" stroke-width="1.04"/>
<text x="643.48" y="1159.1" font-size="22.25" textLength="60.04" lengthAdjust="spacingAndGlyphs" fill="#262626">11/23</text>
<line x1="859.5" y1="1129.5" x2="859.5" y2="1120.2" stroke="#262626" stroke-width="1.04"/>
<line x1="859.5" y1="933.5" x2="859.5" y2="942.8" stroke="#262626" stroke-width="1.04"/>
<text x="829.48" y="1159.1" font-size="22.25" textLength="60.04" lengthAdjust="spacingAndGlyphs" fill="#262626">11/25</text>
<line x1="1045.5" y1="1129.5" x2="1045.5" y2="1120.2" stroke="#262626" stroke-width="1.04"/>
<line x1="1045.5" y1="933.5" x2="1045.5" y2="942.8" stroke="#262626" stroke-width="1.04"/>
<text x="1015.48" y="1159.1" font-size="22.25" textLength="60.04" lengthAdjust="spacingAndGlyphs" fill="#262626">11/27</text>
<line x1="156.5" y1="1129.5" x2="165.8" y2="1129.5" stroke="#262626" stroke-width="1.04"/>
<line x1="1085.5" y1="1129.5" x2="1076.2" y2="1129.5" stroke="#262626" stroke-width="1.04"/>
<text x="132.95" y="1136.9" font-size="22.25" textLength="13.25" lengthAdjust="spacingAndGlyphs" fill="#262626">0</text>
<line x1="156.5" y1="1082.5" x2="165.8" y2="1082.5" stroke="#262626" stroke-width="1.04"/>
<line x1="1085.5" y1="1082.5" x2="1076.2" y2="1082.5" stroke="#262626" stroke-width="1.04"/>
<text x="132.95" y="1089.9" font-size="22.25" textLength="13.25" lengthAdjust="spacingAndGlyphs" fill="#262626">5</text>
<line x1="156.5" y1="1036.5" x2="165.8" y2="1036.5" stroke="#262626" stroke-width="1.04"/>
<line x1="1085.5" y1="1036.5" x2="1076.2" y2="1036.5" stroke="#262626" stroke-width="1.04"/>
<text x="121.19" y="1043.9" font-size="22.25" textLength="25.01" lengthAdjust="spacingAndGlyphs" fill="#262626">10</text>
<line x1="156.5" y1="990.5" x2="165.8" y2="990.5" stroke="#262626" stroke-width="1.04"/>
<line x1="1085.5" y1="990.5" x2="1076.2" y2="990.5" stroke="#262626" stroke-width="1.04"/>
<text x="121.19" y="997.9" font-size="22.25" textLength="25.01" lengthAdjust="spacingAndGlyphs" fill="#262626">15</text>
<line x1="156.5" y1="944.5" x2="165.8" y2="944.5" stroke="#262626" stroke-width="1.04"/>
<line x1="1085.5" y1="944.5" x2="1076.2" y2="944.5" stroke="#262626" stroke-width="1.04"/>
<text x="121.19" y="951.9" font-size="22.25" textLength="25.01" lengthAdjust="spacingAndGlyphs" fill="#262626">20</text>
<text y="1031.5" font-size="24.28" transform="rotate(-90 108 1031.5)" fill="#262626"><tspan x="15.26" textLength="57.6" lengthAdjust="spacingAndGlyphs">Wind</tspan> <tspan x="80.14" textLength="79.12" lengthAdjust="spacingAndGlyphs">Speed,</tspan> <tspan x="166.55" textLength="34.2" lengthAdjust="spacingAndGlyphs">kts</tspan></text>
<polyline points="208.33,980.83 220,1008.33 231.67,1026.67 243.33,1083.33 255,1111.67 266.67,1086.67 278.33,1110.83 290,1098.33 301.67,1058.33 313.33,1076.67 325,1054.17 336.67,1083.33 348.33,1100 360,1055 371.67,1056.67 383.33,1045.33 394.17,1045.33 406.33,1081.67 418,1083 429.5,1083.33 440.83,1099.17 452.5,1073.33 464.17,1106.67 475.83,1038 487.5,1044.17 499.17,1050 510.83,1071.17 522.5,1055.83 534.17,1020.83 545.83,1031.67 557.17,1023.67 568.83,1022.5 580.5,1040 591.67,1055.83 603.33,1070 615,1081.67 627,1077.5 638.33,1085.33 650,1105 661.67,1057.5 673.33,1009.17 685,1060.33 696.67,1080 708.33,1089.17 720,1096.67 731.67,1105.83 743.33,1113.33 755,1073.33 766.33,1057.5 777.5,1066.67 789.17,1085 801.17,1096.33 812.83,1066.67 824.17,1085.83 835.83,1113.67 846.67,1008.33 859.5,946.67 870.83,996.67 882.5,1059.17 894.17,1065.83 905.83,1072.5 917.17,1060.33 928.83,1077 940.5,1017.5 952.17,984.67 963.67,1060.83 975.33,1039.17 986.67,1025.83 998.33,1014.17 1010,1016.67 1021.67,1072.5 1033.33,1095 1045.33,982.5 1056.67,1053.33 1068.33,1075.83 1079.67,1087.5 1087.5,1084.17" fill="none" stroke="#ff0000" stroke-width="4.17" stroke-linejoin="round" stroke-linecap="butt" clip-path="url(#c3)"/>
<polyline points="208.33,986.33 216.67,974.17 224.17,989.17 231.67,1031.67 239.67,1045.33 247.5,1035 255.33,1001.33 263.33,1031.67 270.83,1063.33 278.67,1097.5 286.33,1084.17 294.17,1079.17 301.67,1080.83 309.17,1070 317.5,1055 325,1039.17 333,1034.17 340.83,1031.67 348.33,1032 355.83,1060.83 363.67,1069.17 371.67,1053.33 379.17,1020 386.67,1006.33 394.67,1012.5 402.5,1033.33 410,1051.67 417.5,1067.5 425.5,1055.83 433.33,1072.5 441.17,1117.5 448.67,1091.67 456.67,1083.33 464.17,1095.83 471.67,980 479.67,932.5 487.5,952.5 495,962.5 503,985.83 510.83,1021.33 518.33,1030.83 526.33,1011.67 533.83,965.83 541.67,941.67 549.67,969.17 557.17,1048.67 565,1000.83 572.83,986.67 580.5,1005.83 588,984.17 595.83,973.33 603.83,974.17 611.33,968 619.17,973.33 627.17,990 634.67,995 642.5,1007.5 650,1026.67 658,1040.33 665.83,1041.17 673.33,1030 681.33,1022.5 689.17,1018.33 696.67,1017.5 704.67,1025.83 712.5,1025 720,1015.83 728,1035 735.83,1053.33 743.33,1071.67 751.33,1050.83 759.17,1030.83 766.33,1012.5 774.17,1028.33 781.33,1041.67 789.17,1062.5 797,1055 805,1058.33 812.5,1072.17 835.83,1072.17 843.67,1057.5 851.33,1050 859.5,1048.83" fill="none" stroke="#000000" stroke-width="4.17" stroke-linejoin="round" stroke-linecap="butt" clip-path="url(#c3)"/>
</g>
<g id="p5">
<path d="M156.5 1206V1402.5H1086" fill="none" stroke="#262626" stroke-width="1.04"/>
<line x1="301.5" y1="1402.5" x2="301.5" y2="1393.2" stroke="#262626" stroke-width="1.04"/>
<text x="271.48" y="1432.1" font-size="22.25" textLength="60.04" lengthAdjust="spacingAndGlyphs" fill="#262626">11/19</text>
<line x1="487.5" y1="1402.5" x2="487.5" y2="1393.2" stroke="#262626" stroke-width="1.04"/>
<text x="457.48" y="1432.1" font-size="22.25" textLength="60.04" lengthAdjust="spacingAndGlyphs" fill="#262626">11/21</text>
<line x1="673.5" y1="1402.5" x2="673.5" y2="1393.2" stroke="#262626" stroke-width="1.04"/>
<text x="643.48" y="1432.1" font-size="22.25" textLength="60.04" lengthAdjust="spacingAndGlyphs" fill="#262626">11/23</text>
<line x1="859.5" y1="1402.5" x2="859.5" y2="1393.2" stroke="#262626" stroke-width="1.04"/>
<text x="829.48" y="1432.1" font-size="22.25" textLength="60.04" lengthAdjust="spacingAndGlyphs" fill="#262626">11/25</text>
<line x1="1045.5" y1="1402.5" x2="1045.5" y2="1393.2" stroke="#262626" stroke-width="1.04"/>
<text x="1015.48" y="1432.1" font-size="22.25" textLength="60.04" lengthAdjust="spacingAndGlyphs" fill="#262626">11/27</text>
<line x1="156.5" y1="1402.5" x2="165.8" y2="1402.5" stroke="#262626" stroke-width="1.04"/>
<text x="132.95" y="1409.9" font-size="22.25" textLength="13.25" lengthAdjust="spacingAndGlyphs" fill="#262626">0</text>
<line x1="156.5" y1="1353.5" x2="165.8" y2="1353.5" stroke="#262626" stroke-width="1.04"/>
<text x="106.44" y="1360.9" font-size="22.25" textLength="39.76" lengthAdjust="spacingAndGlyphs" fill="#262626">100</text>
<line x1="156.5" y1="1304.5" x2="165.8" y2="1304.5" stroke="#262626" stroke-width="1.04"/>
<text x="106.44" y="1311.9" font-size="22.25" textLength="39.76" lengthAdjust="spacingAndGlyphs" fill="#262626">200</text>
<line x1="156.5" y1="1255.5" x2="165.8" y2="1255.5" stroke="#262626" stroke-width="1.04"/>
<text x="106.44" y="1262.9" font-size="22.25" textLength="39.76" lengthAdjust="spacingAndGlyphs" fill="#262626">300</text>
<line x1="156.5" y1="1206.5" x2="165.8" y2="1206.5" stroke="#262626" stroke-width="1.04"/>
<text x="106.44" y="1213.9" font-size="22.25" textLength="39.76" lengthAdjust="spacingAndGlyphs" fill="#262626">400</text>
<text y="1304.5" font-size="24.28" transform="rotate(-90 94.3 1304.5)" fill="#262626"><tspan x="-18.79" textLength="57.6" lengthAdjust="spacingAndGlyphs">Wind</tspan> <tspan x="46.09" textLength="110.82" lengthAdjust="spacingAndGlyphs">Direction,</tspan> <tspan x="164.19" textLength="43.19" lengthAdjust="spacingAndGlyphs">deg</tspan></text>
<polyline points="209.17,1250.83 220.83,1250 232,1245.33 243.67,1374.17 255.33,1242 266.67,1371.67 278.33,1360.83 290,1248.33 301.67,1239.67 313.33,1397.5 325,1231.67 336.67,1400.83 348.33,1394.67 360,1237 371.67,1247.5 383.33,1254.67 394.17,1250.83 406.33,1239.67 418,1235 429.5,1268.33 441.17,1367.5 452.83,1350 464.5,1389.17 475.83,1237 487.5,1245.83 499.17,1242.5 510.83,1226.67 522.5,1227.5 534.17,1384.17 545.5,1230 557.17,1400 568.83,1396.33 580.5,1237 592,1228.67 603.33,1400 615,1396.67 627,1391.33 638.33,1385.83 650,1390 661.67,1253.33 673.33,1251.67 685,1243 696.67,1348.33 708.33,1362.5 720,1379.67 731.33,1397.5 743.33,1244.17 754.67,1257.5 766.33,1249.17 777.5,1240.83 789.67,1238 801.17,1394.17 812.83,1241.67 824.17,1227.5 835.83,1247.5 847.5,1253 859.5,1245.83 870.83,1243.33 882.5,1232 894.17,1385 905.83,1389.17 917.17,1393.33 928.83,1226.67 940.5,1248.33 952.17,1247.5 963.67,1398.33 975.33,1384.67 986.67,1390.83 998.33,1395 1010,1391.17 1021.67,1391.33 1033.67,1243.83 1045,1245.33 1056.67,1392.5 1068.33,1389.67 1079.67,1368.67 1087.5,1375" fill="none" stroke="#ff0000" stroke-width="4.17" stroke-linejoin="round" stroke-linecap="butt" clip-path="url(#c4)"/>
<polyline points="209.17,1249.67 216.67,1246.33 224.17,1245.67 232,1248.33 240,1248 247.5,1248.33 255,1249.17 263,1256.67 270.83,1267.5 278.33,1317.5 286.67,1329.17 294.17,1344.17 301.67,1402.5 309.17,1233.33 317.5,1236.33 325,1235.5 332.5,1240 340,1243.67 348,1247 355.83,1246.67 363.33,1249.5 371.33,1253.33 379.17,1249.17 386.67,1247.83 394.67,1248.67 402.5,1247.5 410,1247.17 417.5,1248.67 425.5,1260.83 433.33,1266.67 441.17,1308.33 448.67,1339.17 456.67,1352.5 464.17,1228.33 471.67,1241.33 479.67,1243 487.5,1245 495,1241.33 503,1239.17 510.83,1238 518.33,1226.67 526.33,1391.67 533.83,1384.17 541.67,1384.5 549.67,1384.67 557.17,1384.17 565,1385 572.83,1389.17 580.5,1400 588,1393.33 595.83,1390 603.83,1389.17 611.33,1392 619.17,1393.33 627.17,1392.5 634.67,1389.17 642.5,1389.17 650,1394.17 658,1227.5 665.83,1240.83 673.33,1252.5 681.33,1245 689.17,1240 696.67,1237.5 704.67,1235.83 712.5,1235.83 720,1238 728,1236.67 735.83,1233 743.33,1226.67 751.33,1244.17 759.17,1250 766.33,1250.83 774.17,1249.17 781.33,1247.5 789.17,1245 797,1246.17 805,1243.67 812.5,1237 820.33,1241.33 828,1241.67 835.83,1237.83 843.67,1245 851.33,1248 859.5,1246.67" fill="none" stroke="#000000" stroke-width="4.17" stroke-linejoin="round" stroke-linecap="butt" clip-path="url(#c4)"/>
</g>
<g id="legend">
<rect x="920.5" y="200.5" width="144" height="110" fill="#ffffff" stroke="#262626" stroke-width="1.04"/>
<line x1="929.5" y1="216.2" x2="991.3" y2="216.2" stroke="#0000ff" stroke-width="1.2"/>
<path d="M960.4 210.45l4 5.75l-4 5.75l-4 -5.75z" fill="#0000ff"/>
<line x1="929.5" y1="242.2" x2="991.3" y2="242.2" stroke="#ff0000" stroke-width="4.17"/>
<line x1="929.5" y1="268" x2="991.3" y2="268" stroke="#00ff00" stroke-width="4.17"/>
<line x1="929.5" y1="293.6" x2="991.3" y2="293.6" stroke="#000000" stroke-width="4.17"/>
<text x="998.3" y="222.9" font-size="19.87" textLength="47.31" lengthAdjust="spacingAndGlyphs" fill="#000000">Buoy</text>
<text x="998.3" y="248.9" font-size="19.87" textLength="36.89" lengthAdjust="spacingAndGlyphs" fill="#000000">GFS</text>
<text x="998.3" y="274.7" font-size="19.87" textLength="46.52" lengthAdjust="spacingAndGlyphs" fill="#000000">WAM</text>
<text x="998.3" y="300.3" font-size="19.87" textLength="56.27" lengthAdjust="spacingAndGlyphs" fill="#000000">SWAN</text>
</g>
</svg>
</body>
</html>
